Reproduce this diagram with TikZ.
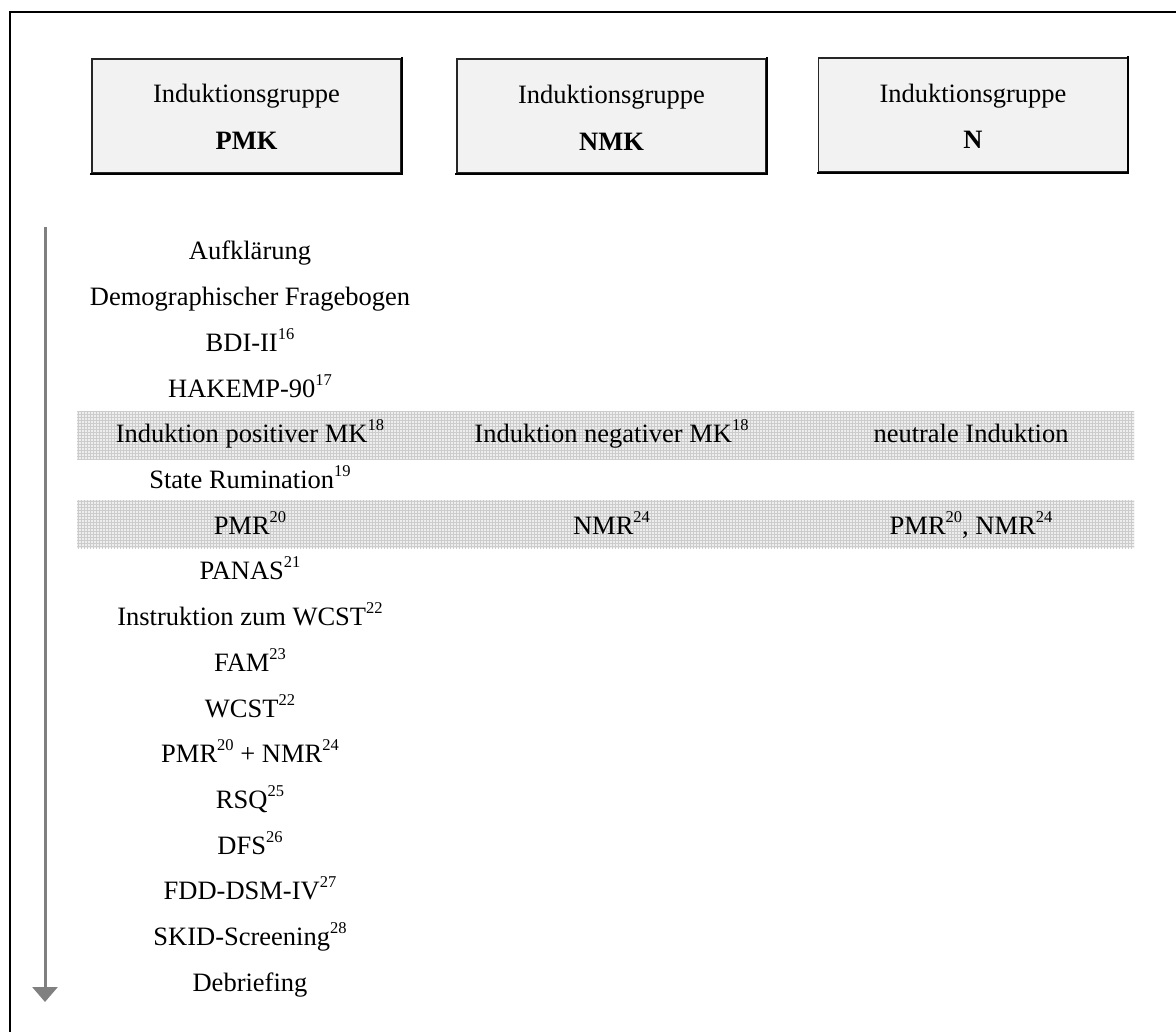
\documentclass[tikz,border=0pt]{standalone}
\usepackage{fontspec}
\setmainfont{Liberation Serif}
\usetikzlibrary{arrows.meta,patterns}
\newcommand\supnum[1]{\raisebox{12pt}{\fontsize{16.5}{16.5}\selectfont #1}}
\definecolor{boxfill}{RGB}{242,242,242}
\definecolor{bandfill}{RGB}{238,238,238}
\definecolor{arrowgray}{RGB}{128,128,128}
\begin{document}
\begin{tikzpicture}[x=1pt,y=-1pt,
  every node/.style={font=\fontsize{26.5}{32}\selectfont, inner sep=0pt},
  groupbox/.style={draw=black!85, line width=1.3pt, fill=boxfill, minimum width=309pt, minimum height=114pt},
  boxshade/.style={draw=black, line width=2.2pt, line cap=rect},
  rowtext/.style={anchor=base},
  bandstyle/.style={fill=bandfill},
  bandpat/.style={pattern=grid, pattern color=black!20},
  timearrow/.style={line width=3pt, draw=arrowgray, -{Triangle[width=25pt,length=15pt]}}]
\useasboundingbox (0,0) rectangle (1176,1032);
% frame
\draw[line width=2pt] (10,1032) -- (10,12) -- (1176,12);
% group boxes
\node[groupbox] (pmk) at (246.5,116) {};
\node[groupbox] (nmk) at (611.5,116) {};
\node[groupbox] (nn) at (973,115) {};
\foreach \b in {pmk,nmk,nn}
  \draw[boxshade] (\b.north east) -- (\b.south east) -- (\b.south west);
\node[rowtext] (pmk1) at (246.5,103) {Induktionsgruppe};
\node[rowtext] (pmk2) at (246.5,150) {\textbf{PMK}};
\node[rowtext] (nmk1) at (611.5,104) {Induktionsgruppe};
\node[rowtext] (nmk2) at (611.5,151) {\textbf{NMK}};
\node[rowtext] (nn1) at (973,103) {Induktionsgruppe};
\node[rowtext] (nn2) at (973,149) {\textbf{N}};
% shaded bands
\fill[bandstyle] (77,411) rectangle (1134,459);
\fill[bandpat] (77,411) rectangle (1134,459);
\fill[bandstyle] (77,500) rectangle (1134,548);
\fill[bandpat] (77,500) rectangle (1134,548);
% time arrow
\coordinate (atop) at (45,227);
\coordinate (atip) at (45,1002);
\draw[timearrow] (atop) -- (atip);
% left column rows
\foreach \t [count=\i from 0] in {Aufklärung, Demographischer Fragebogen, BDI-II\supnum{16}, HAKEMP-90\supnum{17}, Induktion positiver MK\supnum{18}, State Rumination\supnum{19}, PMR\supnum{20}, PANAS\supnum{21}, Instruktion zum WCST\supnum{22}, FAM\supnum{23}, WCST\supnum{22}, PMR\supnum{20} + NMR\supnum{24}, RSQ\supnum{25}, DFS\supnum{26}, FDD-DSM-IV\supnum{27}, SKID-Screening\supnum{28}, Debriefing}
  \node[rowtext] (r\i) at (250,{260+45.7*\i}) {\t};
% other columns
\node[rowtext] (m4) at (611.5,442.8) {Induktion negativer MK\supnum{18}};
\node[rowtext] (n4) at (971,442.8) {neutrale Induktion};
\node[rowtext] (m6) at (611.5,534.2) {NMR\supnum{24}};
\node[rowtext] (n6) at (971,534.2) {PMR\supnum{20}, NMR\supnum{24}};
\end{tikzpicture}
\end{document}
